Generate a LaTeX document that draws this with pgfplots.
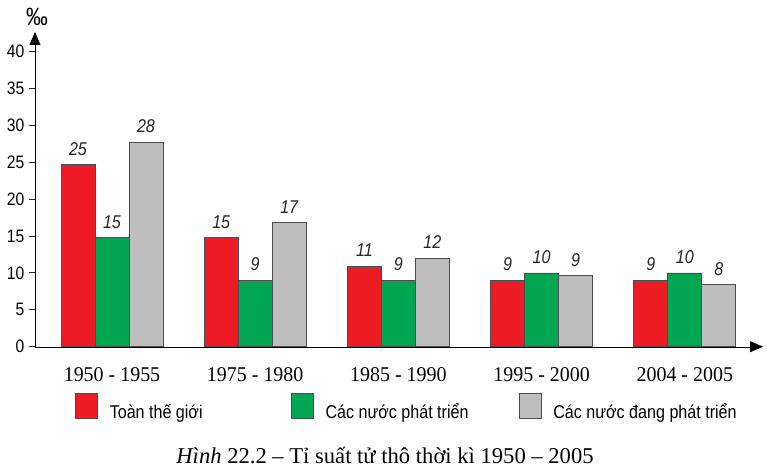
\documentclass[border=0pt]{standalone}
\usepackage{pgfplots}
\pgfplotsset{compat=1.18}
\usepackage{pgfplotstable}
\usepackage{fontspec}
\setmainfont{Liberation Serif}
\newfontfamily\narrow[FakeStretch=0.87]{Liberation Sans}
\newfontfamily\xfont[FakeStretch=0.95]{Liberation Serif}
\usetikzlibrary{arrows.meta}
\definecolor{cred}{HTML}{ED1C24}
\definecolor{cgreen}{HTML}{00A651}
\definecolor{cgray}{HTML}{BEBEBE}
\definecolor{edge}{HTML}{4D4D4D}
\definecolor{axisc}{HTML}{2B2B2B}

\pgfplotstableread{
x y lab
0 24.7 25
1 14.8 15
2 10.9 11
3 9.0 9
4 9.0 9
}\tblred
\pgfplotstableread{
x y lab
0 14.8 15
1 9.0 9
2 9.0 9
3 10.0 10
4 10.0 10
}\tblgreen
\pgfplotstableread{
x y lab
0 27.7 28
1 16.8 17
2 12.0 12
3 9.6 9
4 8.4 8
}\tblgray

\begin{document}
\begin{tikzpicture}
\begin{axis}[
  scale only axis, width=728pt, height=314.7pt,
  xmin=-0.5377, xmax=4.546, ymin=0, ymax=42.67,
  axis x line*=bottom, axis y line*=left,
  axis line style={axisc, line width=1.3pt},
  every outer x axis line/.style={-{Triangle[length=13pt,width=11pt]}},
  every outer y axis line/.style={-{Triangle[length=13pt,width=11pt]}},
  ytick={0,5,...,40},
  xtick={0,1,2,3,4},
  xticklabels={1950 - 1955, 1975 - 1980, 1985 - 1990, 1995 - 2000, 2004 - 2005},
  /pgf/number format/assume math mode=true,
  tick align=outside,
  major tick length=6pt,
  ytick style={axisc, line width=1.1pt},
  xtick style={draw=none},
  yticklabel style={font=\narrow\fontsize{18}{18}\selectfont, anchor=east, inner sep=0pt, xshift=-4.5pt},
  xticklabel style={font=\xfont\fontsize{21}{21}\selectfont, anchor=base, yshift=-28.3pt},
  ylabel={‰},
  ylabel style={rotate=-90, font=\narrow\fontsize{25}{25}\selectfont, at={(axis description cs:0.0027,1.022)}, anchor=base},
  ybar=0pt, bar width=34pt,
  every axis plot/.append style={draw=edge, line width=0.8pt},
  nodes near coords,
  point meta=explicit symbolic,
  nodes near coords style={font=\narrow\itshape\fontsize{18.5}{18.5}\selectfont, anchor=base, yshift=9.5pt, text=black!85},
  legend columns=3,
  legend image code/.code={\draw[#1, line width=0.8pt] (0pt,-5.85pt) rectangle (22pt,19.15pt);},
  legend style={at={(0.0549,-0.190)}, anchor=west, draw=none, fill=none, inner sep=0pt, outer sep=0pt,
    nodes={inner sep=0pt, font=\narrow\fontsize{18.5}{18.5}\selectfont},
    /tikz/every odd column/.style={column sep=12pt},
    /tikz/every even column/.style={column sep=0pt}},
  clip=false,
]
\addplot[fill=cred] table[x=x, y=y, meta=lab] {\tblred};
\addplot[fill=cgreen] table[x=x, y=y, meta=lab] {\tblgreen};
\addplot[fill=cgray] table[x=x, y=y, meta=lab] {\tblgray};
\addlegendentry{\makebox[181pt][l]{Toàn thế giới}}
\addlegendentry{\makebox[193pt][l]{Các nước phát triển}}
\addlegendentry{Các nước đang phát triển}
\end{axis}
\node[anchor=base, font=\fontsize{22.6}{22.6}\selectfont] at (350pt,-116.3pt) {\textit{Hình} 22.2 – Tỉ suất tử thô thời kì 1950 – 2005};
\pgfresetboundingbox
\path[use as bounding box] (-35pt,-124.3pt) rectangle (732pt,346.7pt);
\end{tikzpicture}
\end{document}
